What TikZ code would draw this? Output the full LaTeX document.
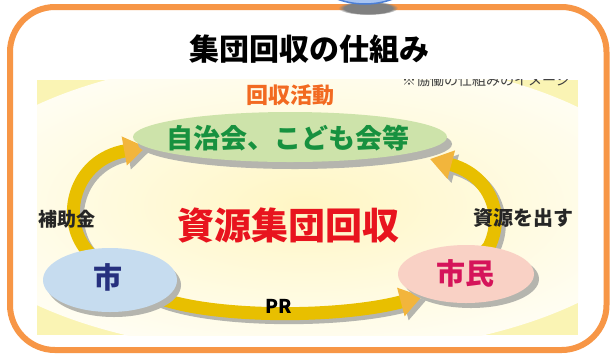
\documentclass[tikz,border=0pt]{standalone}
\usepackage{fontspec}
\setmainfont{Noto Sans CJK JP}
\usetikzlibrary{arrows.meta,shapes.geometric,shadows,fadings}
\definecolor{borderorange}{HTML}{F79646}
\definecolor{bgy}{HTML}{FAF4B4}
\definecolor{glowc}{HTML}{FFF6C4}
\definecolor{glowm}{HTML}{FFFBE2}
\definecolor{bandy}{HTML}{E8BF00}
\definecolor{headc}{HTML}{F2B53C}
\definecolor{shadowc}{HTML}{B5B5AE}
\definecolor{greenfill}{HTML}{CDE3AA}
\definecolor{greentext}{HTML}{17913F}
\definecolor{bluefill}{HTML}{C6DCEF}
\definecolor{navytext}{HTML}{26307E}
\definecolor{pinkfill}{HTML}{F9D1C5}
\definecolor{crimson}{HTML}{D5145A}
\definecolor{redtext}{HTML}{E8141E}
\definecolor{orangetext}{HTML}{F26A21}
\definecolor{topblue}{HTML}{A7C4F2}
\definecolor{topblueline}{HTML}{4C7FD6}
\pgfdeclareradialshading{glow}{\pgfpoint{0bp}{0bp}}{color(0bp)=(glowc); color(16bp)=(glowm); color(32bp)=(white); color(40bp)=(white); color(48bp)=(bgy); color(50bp)=(bgy)}
\pgfdeclarelayer{bg}
\pgfdeclarelayer{arr}
\pgfsetlayers{bg,arr,main}
\newcommand{\jfs}[1]{\fontsize{#1}{#1}\selectfont\bfseries}
\begin{document}
\begin{tikzpicture}[x=1pt,y=-1pt,
  ell/.style={ellipse, inner sep=0pt, draw=none},
  lbl/.style={inner sep=0pt},
  band/.style={line width=13pt, draw=bandy, line join=round, -{Triangle[width=28pt,length=22pt,fill=headc,color=headc]}},
  bandsh/.style={line width=13pt, draw=shadowc, line join=round, -{Triangle[width=28pt,length=22pt,fill=shadowc,color=shadowc]}, transform canvas={shift={(4pt,-4pt)}}},
]
\useasboundingbox (0,0) rectangle (613,360);
\clip (0,0) rectangle (613,360);
\begin{pgfonlayer}{bg}
\fill[white] (0,0) rectangle (613,360);
\begin{scope}
\clip (37,79) rectangle (578,335);
\fill[bgy] (37,80) rectangle (578,335);
\shade[shading=glow] (305,205) ellipse (360 and 150);
\node[anchor=west, inner sep=0pt, font=\fontsize{14}{14}\selectfont, text=black!75] (note) at (402,80) {※協働の仕組みのイメージ};
\end{scope}
\end{pgfonlayer}

% frame
\draw[borderorange, line width=6pt, rounded corners=45pt] (10,7) rectangle (606.5,350);
% top blue shape
\fill[black!50, path fading=circle with fuzzy edge 20 percent] (368,8) ellipse (30 and 7);
\draw[fill=topblue, draw=topblueline, line width=1.5pt] (365,-76) circle (80);

% ellipses
\node[ell, minimum width=314pt, minimum height=50pt, fill=greenfill,
  drop shadow={shadow xshift=5pt, shadow yshift=-7pt, fill=shadowc, opacity=1}] (jichi) at (290,137) {};
\node[ell, minimum width=134pt, minimum height=64pt, fill=bluefill,
  drop shadow={shadow xshift=4pt, shadow yshift=-5pt, fill=shadowc, opacity=1}] (shi) at (110,280) {};
\node[ell, minimum width=136pt, minimum height=58pt, fill=pinkfill,
  drop shadow={shadow xshift=5pt, shadow yshift=-5pt, fill=shadowc, opacity=1}] (shimin) at (466,274) {};
\coordinate (tipL) at (jichi.184);
\coordinate (tipR) at ([shift={(140,22)}]jichi.center);

% arrows
\begin{pgfonlayer}{arr}
\draw[bandsh] (shi.center) -- (shi.128) .. controls (60,218) and (74,160) .. (tipL);
\draw[bandsh] (shimin.center) -- (shimin.50) .. controls (505,215) and (490,175) .. (tipR);
\draw[bandsh] (shi.center) -- (shi.-20) .. controls (220,318) and (340,318) .. (shimin.207);
\draw[band] (shi.center) -- (shi.128) .. controls (60,218) and (74,160) .. (tipL);
\draw[band] (shimin.center) -- (shimin.50) .. controls (505,215) and (490,175) .. (tipR);
\draw[band] (shi.center) -- (shi.-20) .. controls (220,318) and (340,318) .. (shimin.207);
\end{pgfonlayer}

% labels
\node[lbl, font=\jfs{30}, text=black] (title) at (309,49) {集団回収の仕組み};
\node[lbl, font=\jfs{22}, text=orangetext] (kaishu) at (290,95) {回収活動};
\node[lbl, font=\jfs{27}, text=greentext] (jichit) at (288,138) {自治会、こども会等};
\node[lbl, font=\jfs{37}, text=redtext] (shigen) at (288,225) {資源集団回収};
\node[lbl, font=\jfs{19}, text=black!85] (hojo) at (67,219) {補助金};
\node[lbl, font=\jfs{20}, text=black!85] (dasu) at (523,218) {資源を出す};
\node[lbl, font=\jfs{29}, text=navytext] (shit) at (108,277) {市};
\node[lbl, font=\jfs{29}, text=crimson] (shimint) at (465,273) {市民};
\node[lbl, font=\jfs{19}, text=black] (pr) at (279,306) {PR};
\end{tikzpicture}
\end{document}
